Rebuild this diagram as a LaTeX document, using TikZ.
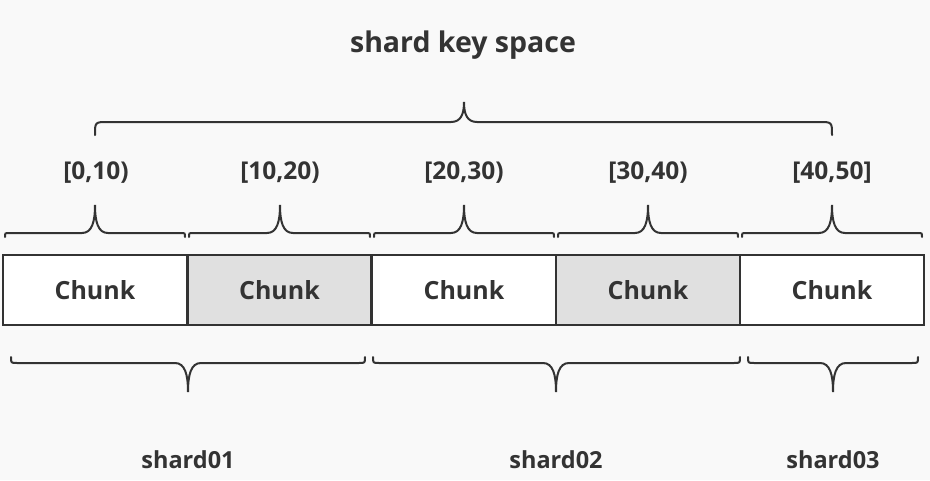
\documentclass[tikz,border=0pt]{standalone}
\usepackage{fontspec}
\setmainfont{Open Sans}
\usepackage{tikz}
\usetikzlibrary{positioning}

\definecolor{bg}{HTML}{F9F9F9}
\definecolor{ink}{HTML}{333333}
\definecolor{shade}{HTML}{E0E0E0}

% brace: from x, to x, tip x, base y, curl (signed), tip height (signed)
\newcommand{\keybrace}[6]{%
  \draw[brace line] (#1,#4)
    .. controls (#1,{#4+(#5)}) .. ({#1+abs(#5)},{#4+(#5)})
    -- ({#3-13},{#4+(#5)})
    .. controls ({#3-3},{#4+(#5)}) and (#3,{#4+(#5)+0.4*(#6)}) .. (#3,{#4+(#5)+(#6)})
    .. controls (#3,{#4+(#5)+0.4*(#6)}) and ({#3+3},{#4+(#5)}) .. ({#3+13},{#4+(#5)})
    -- ({#2-abs(#5)},{#4+(#5)})
    .. controls (#2,{#4+(#5)}) .. (#2,#4);
}

\begin{document}
\begin{tikzpicture}[x=1pt,y=-1pt,
    chunk/.style={draw=ink,line width=2.4pt,minimum width=184pt,minimum height=70pt,
      inner sep=0pt,outer sep=0pt,text=ink,font=\fontsize{25}{30}\selectfont\bfseries},
    label text/.style={text=ink,inner sep=0pt,font=\fontsize{24.5}{30}\selectfont\bfseries},
    brace line/.style={draw=ink,line width=2pt,line cap=round}]
\useasboundingbox[fill=bg] (0,0) rectangle (930,480);

\node[label text,font=\fontsize{28.5}{34}\selectfont\bfseries] (title) at (463,45) {shard key space};

\node[label text] (r1) at (96,173) {[0,10)};
\node[label text] (r2) at (280,173) {[10,20)};
\node[label text] (r3) at (464,173) {[20,30)};
\node[label text] (r4) at (648,173) {[30,40)};
\node[label text] (r5) at (832,173) {[40,50]};

\node[chunk,fill=white] (c1) at (95,290) {Chunk};
\node[chunk,fill=shade] (c2) at (279.5,290) {Chunk};
\node[chunk,fill=white] (c3) at (464,290) {Chunk};
\node[chunk,fill=shade] (c4) at (648,290) {Chunk};
\node[chunk,fill=white] (c5) at (832,290) {Chunk};

\node[label text,font=\fontsize{23.5}{28}\selectfont\bfseries] (s1) at (188,460) {shard01};
\node[label text,font=\fontsize{23.5}{28}\selectfont\bfseries] (s2) at (556,460) {shard02};
\node[label text,font=\fontsize{23.5}{28}\selectfont\bfseries] (s3) at (833,460) {shard03};

% key space
\keybrace{95}{832}{464}{135}{-13}{-20}
% chunk ranges
\keybrace{5}{185}{95}{237}{-4}{-28}
\keybrace{189}{370}{280}{237}{-4}{-28}
\keybrace{374}{554}{464}{237}{-4}{-28}
\keybrace{558}{738}{648}{237}{-4}{-28}
\keybrace{742}{922}{832}{237}{-4}{-28}
% shards
\keybrace{11}{365}{188}{357}{6}{29}
\keybrace{373}{740}{556}{357}{6}{29}
\keybrace{748}{918}{833}{357}{6}{29}
\end{tikzpicture}
\end{document}
